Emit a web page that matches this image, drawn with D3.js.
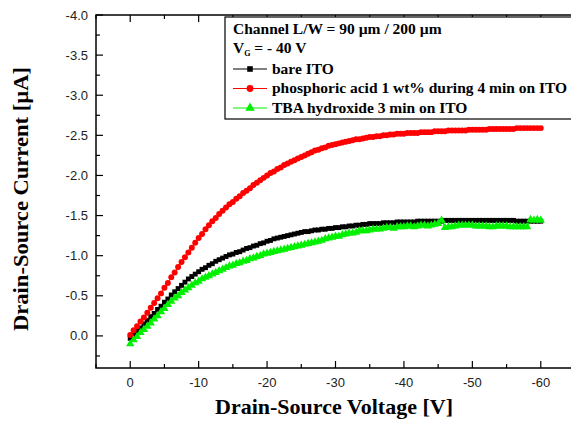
<!DOCTYPE html>
<html lang="en">
<head>
  <meta charset="UTF-8">
  <title>Drain-Source Current vs Voltage</title>
  <script src="https://d3js.org/d3.v7.min.js"></script>
  <style>
    body {
      margin: 0;
      padding: 0;
      background: #fff;
      overflow: hidden;
    }
    .tick-label {
      font-family: "Liberation Sans", Arial, sans-serif;
      font-size: 13px;
      fill: #222;
    }
    .axis-title {
      font-family: "Liberation Serif", "Times New Roman", serif;
      font-weight: bold;
      font-size: 22px;
      fill: #000;
    }
    .legend-text {
      font-family: "Liberation Serif", "Times New Roman", serif;
      font-weight: bold;
      font-size: 15.5px;
      fill: #000;
    }
  </style>
</head>
<body>
  <div id="chart"></div>

  <script>
    // drain-source voltage sweep [V]
    const voltage = [
      0, -0.5, -1, -1.5, -2, -2.5, -3, -3.5, -4, -4.5,
      -5, -5.5, -6, -6.5, -7, -7.5, -8, -8.5, -9, -9.5,
      -10, -10.5, -11, -11.5, -12, -12.5, -13, -13.5, -14, -14.5,
      -15, -15.5, -16, -16.5, -17, -17.5, -18, -18.5, -19, -19.5,
      -20, -20.5, -21, -21.5, -22, -22.5, -23, -23.5, -24, -24.5,
      -25, -25.5, -26, -26.5, -27, -27.5, -28, -28.5, -29, -29.5,
      -30, -30.5, -31, -31.5, -32, -32.5, -33, -33.5, -34, -34.5,
      -35, -35.5, -36, -36.5, -37, -37.5, -38, -38.5, -39, -39.5,
      -40, -40.5, -41, -41.5, -42, -42.5, -43, -43.5, -44, -44.5,
      -45, -45.5, -46, -46.5, -47, -47.5, -48, -48.5, -49, -49.5,
      -50, -50.5, -51, -51.5, -52, -52.5, -53, -53.5, -54, -54.5,
      -55, -55.5, -56, -56.5, -57, -57.5, -58, -58.5, -59, -59.5,
      -60
    ];

    // drain-source current [uA]
    const bareITO = [
      0.03, -0.01, -0.06, -0.10, -0.15, -0.19, -0.24, -0.28, -0.33, -0.37,
      -0.42, -0.46, -0.51, -0.55, -0.59, -0.63, -0.67, -0.71, -0.74, -0.77,
      -0.80, -0.83, -0.85, -0.88, -0.90, -0.93, -0.95, -0.97, -0.99, -1.01,
      -1.02, -1.04, -1.05, -1.07, -1.09, -1.10, -1.12, -1.13, -1.15, -1.16,
      -1.18, -1.19, -1.21, -1.22, -1.23, -1.24, -1.25, -1.26, -1.27, -1.28,
      -1.29, -1.30, -1.30, -1.31, -1.32, -1.32, -1.33, -1.33, -1.34, -1.34,
      -1.35, -1.35, -1.36, -1.36, -1.37, -1.37, -1.38, -1.38, -1.39, -1.39,
      -1.40, -1.40, -1.40, -1.40, -1.41, -1.41, -1.41, -1.41, -1.42, -1.42,
      -1.42, -1.42, -1.42, -1.42, -1.43, -1.43, -1.43, -1.43, -1.43, -1.43,
      -1.43, -1.43, -1.44, -1.44, -1.44, -1.44, -1.44, -1.44, -1.44, -1.44,
      -1.44, -1.44, -1.44, -1.44, -1.44, -1.44, -1.44, -1.44, -1.44, -1.44,
      -1.44, -1.44, -1.44, -1.43, -1.43, -1.43, -1.43, -1.43, -1.43, -1.43,
      -1.43
    ];

    const phosphoric = [
      -0.01, -0.07, -0.12, -0.18, -0.23, -0.29, -0.35, -0.41, -0.47, -0.53,
      -0.60, -0.66, -0.73, -0.79, -0.86, -0.92, -0.98, -1.04, -1.10, -1.16,
      -1.22, -1.27, -1.33, -1.38, -1.43, -1.47, -1.52, -1.56, -1.60, -1.64,
      -1.67, -1.71, -1.74, -1.78, -1.81, -1.84, -1.88, -1.91, -1.94, -1.97,
      -2.00, -2.03, -2.05, -2.08, -2.10, -2.13, -2.15, -2.17, -2.19, -2.21,
      -2.23, -2.25, -2.27, -2.29, -2.31, -2.32, -2.34, -2.35, -2.37, -2.38,
      -2.39, -2.40, -2.41, -2.42, -2.43, -2.44, -2.45, -2.45, -2.46, -2.47,
      -2.48, -2.48, -2.49, -2.49, -2.50, -2.50, -2.51, -2.51, -2.52, -2.52,
      -2.52, -2.53, -2.53, -2.53, -2.53, -2.54, -2.54, -2.54, -2.54, -2.55,
      -2.55, -2.55, -2.55, -2.56, -2.56, -2.56, -2.56, -2.56, -2.56, -2.57,
      -2.57, -2.57, -2.57, -2.57, -2.57, -2.58, -2.58, -2.58, -2.58, -2.58,
      -2.58, -2.58, -2.58, -2.59, -2.59, -2.59, -2.59, -2.59, -2.59, -2.59,
      -2.59
    ];

    const tbaHydroxide = [
      0.10, 0.05, 0.01, -0.04, -0.08, -0.12, -0.16, -0.21, -0.25, -0.30,
      -0.34, -0.39, -0.43, -0.47, -0.50, -0.54, -0.57, -0.60, -0.63, -0.66,
      -0.68, -0.71, -0.73, -0.75, -0.77, -0.79, -0.81, -0.83, -0.85, -0.87,
      -0.88, -0.90, -0.91, -0.93, -0.94, -0.96, -0.97, -0.99, -1.00, -1.02,
      -1.03, -1.04, -1.05, -1.06, -1.07, -1.08, -1.09, -1.10, -1.11, -1.12,
      -1.13, -1.14, -1.15, -1.16, -1.17, -1.18, -1.19, -1.21, -1.22, -1.23,
      -1.24, -1.24, -1.26, -1.27, -1.28, -1.28, -1.29, -1.31, -1.31, -1.31,
      -1.32, -1.33, -1.33, -1.33, -1.34, -1.35, -1.35, -1.34, -1.36, -1.36,
      -1.36, -1.37, -1.37, -1.36, -1.37, -1.38, -1.38, -1.37, -1.38, -1.39,
      -1.40, -1.44, -1.35, -1.36, -1.36, -1.37, -1.38, -1.38, -1.38, -1.38,
      -1.38, -1.37, -1.37, -1.37, -1.37, -1.36, -1.36, -1.37, -1.37, -1.37,
      -1.37, -1.36, -1.36, -1.36, -1.36, -1.36, -1.36, -1.45, -1.44, -1.45,
      -1.44
    ];

    const xTicks = [0, -10, -20, -30, -40, -50, -60];
    const yTicks = [0.0, -0.5, -1.0, -1.5, -2.0, -2.5, -3.0, -3.5, -4.0];

    const seriesNames = ["bare ITO", "phosphoric acid 1 wt% during 4 min on ITO", "TBA hydroxide 3 min on ITO"];
    const seriesColors = ["#000000", "#ff0000", "#00f000"];

    const width = 571, height = 422;
    const plot = { left: 96, top: 15, right: 575, bottom: 368 };

    const x = d3.scaleLinear().domain([5, -65]).range([plot.left, plot.right]);
    const y = d3.scaleLinear().domain([0.4, -4.0]).range([plot.bottom, plot.top]);

    const svg = d3.select("#chart").append("svg")
      .attr("width", width)
      .attr("height", height);

    // frame
    svg.append("rect")
      .attr("x", plot.left).attr("y", plot.top)
      .attr("width", plot.right - plot.left).attr("height", plot.bottom - plot.top)
      .attr("fill", "none").attr("stroke", "#000").attr("stroke-width", 1.5);

    // inward ticks: bottom and top
    const xMinor = d3.range(-65, 5.01, 5);
    xMinor.forEach(v => {
      const major = v % 10 === 0;
      const len = major ? 7 : 4;
      svg.append("line")
        .attr("x1", x(v)).attr("x2", x(v))
        .attr("y1", plot.bottom).attr("y2", plot.bottom - len)
        .attr("stroke", "#000").attr("stroke-width", 1.2);
      svg.append("line")
        .attr("x1", x(v)).attr("x2", x(v))
        .attr("y1", plot.top).attr("y2", plot.top + len)
        .attr("stroke", "#000").attr("stroke-width", 1.2);
    });

    // inward ticks: left
    d3.range(-4.0, 0.41, 0.25).forEach(v => {
      const major = Math.abs(v * 2 - Math.round(v * 2)) < 1e-6;
      const len = major ? 7 : 4;
      svg.append("line")
        .attr("x1", plot.left).attr("x2", plot.left + len)
        .attr("y1", y(v)).attr("y2", y(v))
        .attr("stroke", "#000").attr("stroke-width", 1.2);
    });

    svg.selectAll(".xlab")
      .data(xTicks)
      .enter().append("text")
      .attr("class", "tick-label")
      .attr("x", d => x(d))
      .attr("y", 387)
      .attr("text-anchor", "middle")
      .text(d => d === 0 ? "0" : String(d));

    svg.selectAll(".ylab")
      .data(yTicks)
      .enter().append("text")
      .attr("class", "tick-label")
      .attr("x", 88)
      .attr("y", d => y(d))
      .attr("dy", "0.35em")
      .attr("text-anchor", "end")
      .text(d => d.toFixed(1));

    // axis titles
    svg.append("text")
      .attr("class", "axis-title")
      .attr("x", 334).attr("y", 414)
      .attr("text-anchor", "middle")
      .attr("textLength", 238)
      .attr("lengthAdjust", "spacingAndGlyphs")
      .text("Drain-Source Voltage [V]");

    svg.append("text")
      .attr("class", "axis-title")
      .attr("transform", "translate(28,199) rotate(-90)")
      .attr("text-anchor", "middle")
      .attr("textLength", 264)
      .attr("lengthAdjust", "spacingAndGlyphs")
      .text("Drain-Source Current [\u00b5A]");

    // series
    const symbols = [d3.symbolSquare, d3.symbolCircle, d3.symbolTriangle];
    const symbolSizes = [24, 28, 30];
    const allSeries = [bareITO, phosphoric, tbaHydroxide];

    const g = svg.append("g");
    allSeries.forEach((vals, i) => {
      const pts = voltage.map((v, k) => [v, vals[k]]);
      g.append("path")
        .datum(pts)
        .attr("fill", "none")
        .attr("stroke", seriesColors[i])
        .attr("stroke-width", 1)
        .attr("d", d3.line().x(d => x(d[0])).y(d => y(d[1])));
      g.selectAll(".m" + i)
        .data(pts)
        .enter().append("path")
        .attr("transform", d => `translate(${x(d[0])},${y(d[1])})`)
        .attr("d", d3.symbol().type(symbols[i]).size(symbolSizes[i]))
        .attr("fill", seriesColors[i]);
    });

    // legend box
    const lg = svg.append("g");
    lg.append("rect")
      .attr("x", 225).attr("y", 17)
      .attr("width", 360).attr("height", 102)
      .attr("fill", "#fff").attr("stroke", "#000").attr("stroke-width", 1.2);

    lg.append("text")
      .attr("class", "legend-text")
      .attr("x", 233).attr("y", 34)
      .text("Channel L/W = 90 \u00b5m / 200 \u00b5m");

    const vg = lg.append("text")
      .attr("class", "legend-text")
      .attr("x", 233).attr("y", 53);
    vg.append("tspan").text("V");
    vg.append("tspan").attr("font-size", "8px").attr("dy", 3).text("G");
    vg.append("tspan").attr("dy", -3).text(" = - 40 V");

    seriesNames.forEach((name, i) => {
      const ly = 69 + i * 19.5;
      lg.append("line")
        .attr("x1", 233).attr("x2", 267)
        .attr("y1", ly).attr("y2", ly)
        .attr("stroke", seriesColors[i]).attr("stroke-width", 1);
      lg.append("path")
        .attr("transform", `translate(250,${ly})`)
        .attr("d", d3.symbol().type(symbols[i]).size(symbolSizes[i] * 1.3))
        .attr("fill", seriesColors[i]);
      lg.append("text")
        .attr("class", "legend-text")
        .attr("x", 272).attr("y", ly + 4.5)
        .text(name);
    });
  </script>
</body>
</html>
